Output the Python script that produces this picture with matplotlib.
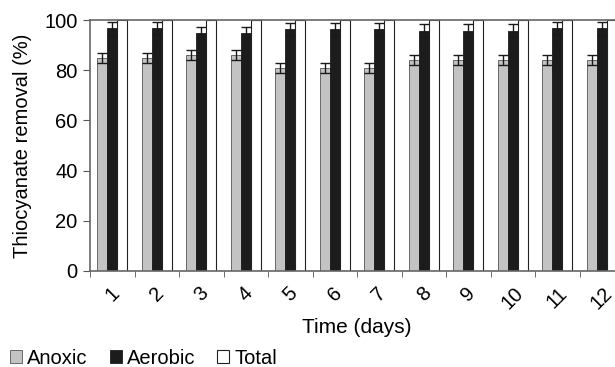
import matplotlib
matplotlib.use('Agg')
import matplotlib.pyplot as plt
import numpy as np

plt.rcParams['font.family'] = ['Liberation Sans', 'DejaVu Sans']

days = ['1', '2', '3', '4', '5', '6', '7', '8', '9', '10', '11', '12']
anoxic = [85, 85, 86, 86, 81, 81, 81, 84, 84, 84, 84, 84]
anoxic_err = [2, 2, 2, 2, 2, 2, 2, 2, 2, 2, 2, 2]
aerobic = [96.7, 96.7, 95, 95, 96.3, 96.3, 96.3, 95.7, 95.7, 95.7, 96.7, 96.7]
aerobic_err = [2.6, 2.6, 2.3, 2.3, 2.6, 2.6, 2.6, 2.6, 2.6, 2.6, 2.6, 2.6]
total = [100, 100, 100, 100, 100, 100, 100, 100, 100, 100, 100, 100]

fig = plt.figure(figsize=(6.15, 3.67), dpi=100)
# axes runs past the right edge, the last bar is cut off like in the original
ax = fig.add_axes([90/615, 1-271/367, 534/615, (271-20)/367])

x = np.arange(len(days))
w = 0.225
ekw = dict(elinewidth=1, capsize=3.5, capthick=1, ecolor='#1a1a1a')
ax.bar(x - w, anoxic, w, color='#c3c3c3', edgecolor='#555555', linewidth=0.6,
       yerr=anoxic_err, error_kw=ekw, label='Anoxic')
ax.bar(x, aerobic, w, color='#1c1c1c', edgecolor='#1c1c1c', linewidth=0.6,
       yerr=aerobic_err, error_kw=ekw, label='Aerobic')
ax.bar(x + w, total, w, color='white', edgecolor='#222222', linewidth=0.8,
       label='Total')

ax.set_xlim(-0.5, len(days) - 0.5)
ax.set_ylim(0, 100)
ax.set_yticks([0, 20, 40, 60, 80, 100])
ax.set_xticks(x)
ax.set_xticklabels(days, rotation=45, fontsize=14.5)
ax.tick_params(axis='x', which='major', length=0, pad=9)
ax.set_xticks(np.arange(len(days) + 1) - 0.5, minor=True)
ax.tick_params(axis='x', which='minor', length=4, color='#555555')
ax.tick_params(axis='y', labelsize=14.5, length=5, pad=4, color='#555555')

for s in ['left', 'bottom', 'top']:
    ax.spines[s].set_color('#666666')
    ax.spines[s].set_linewidth(1.2)
ax.spines['right'].set_visible(False)

ax.set_xlabel('Time (days)', fontsize=15, labelpad=4)
ax.set_ylabel('Thiocyanate removal (%)', fontsize=14.5, labelpad=9)

fig.legend(loc='lower left', bbox_to_anchor=(-0.0135, -0.052), ncol=3, frameon=False,
           fontsize=14.5, handlelength=0.6, handleheight=0.6, handletextpad=0.25,
           columnspacing=1.1)

fig.savefig('out.png', dpi=100)
